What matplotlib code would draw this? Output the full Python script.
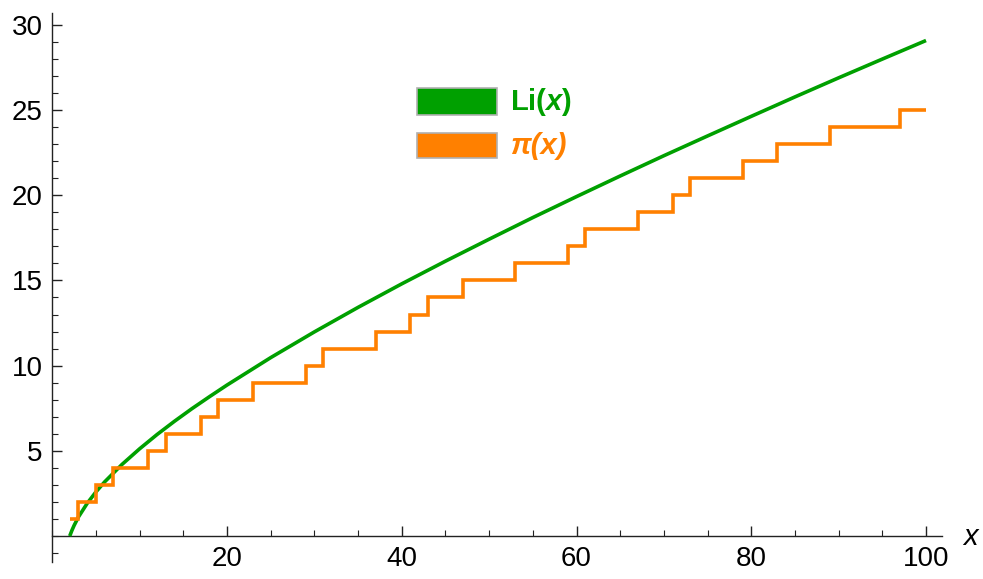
import matplotlib
matplotlib.use("Agg")
import matplotlib.pyplot as plt
from matplotlib.patches import Rectangle
from matplotlib.ticker import MultipleLocator

plt.rcParams['font.family'] = ['Liberation Sans', 'DejaVu Sans']
plt.rcParams['mathtext.fontset'] = 'custom'
plt.rcParams['mathtext.rm'] = 'Liberation Sans:bold'
plt.rcParams['mathtext.it'] = 'Liberation Sans:italic:bold'
plt.rcParams['mathtext.bf'] = 'Liberation Sans:bold'

# Li(x)
li_x = [2, 2.25, 2.5, 3, 4, 5, 6, 8, 10, 12, 14, 16, 18, 20, 25, 30, 35, 40, 45,
        50, 55, 60, 65, 70, 75, 80, 85, 90, 95, 100]
li_y = [0.0, 0.33, 0.62, 1.12, 1.92, 2.59, 3.18, 4.21, 5.12, 5.96, 6.74, 7.48, 8.18,
        8.86, 10.47, 11.98, 13.42, 14.80, 16.13, 17.42, 18.69, 19.92, 21.13, 22.32,
        23.48, 24.63, 25.77, 26.89, 27.99, 29.08]

# pi(x): jump positions and step values
pi_x = [2, 3, 5, 7, 11, 13, 17, 19, 23, 29, 31, 37, 41, 43, 47, 53, 59, 61, 67, 71,
        73, 79, 83, 89, 97, 100]
pi_y = [1, 2, 3, 4, 5, 6, 7, 8, 9, 10, 11, 12, 13, 14, 15, 16, 17, 18, 19, 20,
        21, 22, 23, 24, 25, 25]

labels = ["Li", "π(x)"]
green = "#00A000"
orange = "#FF8000"

fig = plt.figure(figsize=(9.83, 5.79), dpi=100)
W, H = 983, 579
left_px, right_px = 52.25, 941.75
top_px, bot_px = 12.9, 561.6
ax = fig.add_axes([left_px / W, 1 - bot_px / H, (right_px - left_px) / W, (bot_px - top_px) / H])
ax.set_xlim(0, 101.8)
ax.set_ylim(-1.5, 30.7)

ax.plot(li_x, li_y, color=green, lw=2.6, solid_capstyle='butt', zorder=3)
ax.step(pi_x, pi_y, where='post', color=orange, lw=2.6, solid_joinstyle='miter',
        solid_capstyle='butt', zorder=4)

for s in ['top', 'right']:
    ax.spines[s].set_visible(False)
ax.spines['left'].set_position(('data', 0))
ax.spines['bottom'].set_position(('data', 0))
for s in ['left', 'bottom']:
    ax.spines[s].set_linewidth(1.0)
    ax.spines[s].set_color('#222222')

ax.xaxis.set_major_locator(MultipleLocator(20))
ax.xaxis.set_minor_locator(MultipleLocator(5))
ax.yaxis.set_major_locator(MultipleLocator(5))
ax.yaxis.set_minor_locator(MultipleLocator(1))
ax.tick_params(axis='both', which='both', direction='in', color='#222222', labelsize=20)
ax.tick_params(axis='x', which='major', length=7, width=1, pad=7)
ax.tick_params(axis='x', which='minor', length=4, width=0.8)
ax.tick_params(axis='y', which='major', length=7, width=1, pad=7)
ax.tick_params(axis='y', which='minor', length=4, width=0.8)
ax.set_xticks([20, 40, 60, 80, 100])
ax.set_yticks([5, 10, 15, 20, 25, 30])
ax.set_xticklabels(['20', '40', '60', '80', '100'])
ax.set_yticklabels(['5', '10', '15', '20', '25', '30'])

ax.text(1.024, 0.045, 'x', transform=ax.transAxes, fontsize=21, fontstyle='italic',
        ha='left', va='center')

# legend
ax.add_patch(Rectangle((0.410, 0.814), 0.090, 0.049, transform=ax.transAxes,
                       facecolor=green, edgecolor='#b0b0b0', lw=1.2, clip_on=False))
ax.add_patch(Rectangle((0.410, 0.7356), 0.090, 0.046, transform=ax.transAxes,
                       facecolor=orange, edgecolor='#b0b0b0', lw=1.2, clip_on=False))
ax.text(0.5146, 0.838, r'$\mathrm{' + labels[0] + r'}(x)$', transform=ax.transAxes,
        fontsize=21, color=green, ha='left', va='center')
ax.text(0.5146, 0.758, labels[1], transform=ax.transAxes, fontsize=21, color=orange,
        fontweight='bold', fontstyle='italic', ha='left', va='center')

fig.savefig('out.png', dpi=100)
